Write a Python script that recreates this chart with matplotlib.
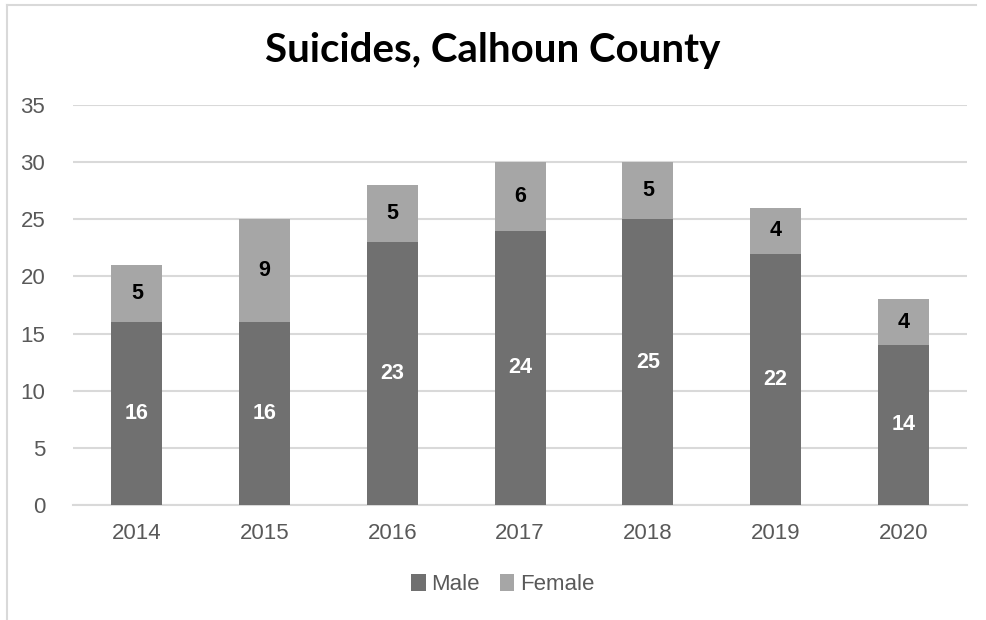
import numpy as np
import matplotlib.pyplot as plt
from matplotlib.lines import Line2D

# data
years = ["2014", "2015", "2016", "2017", "2018", "2019", "2020"]
male = [16, 16, 23, 24, 25, 22, 14]
female = [5, 9, 5, 6, 5, 4, 4]

male_color = "#707070"
female_color = "#a6a6a6"
grid_color = "#d9d9d9"
tick_color = "#595959"

fig = plt.figure(figsize=(9.86, 6.2), dpi=100)
ax = fig.add_axes([0.074, 0.1855, 0.907, 0.6451])

x = np.arange(len(years))
b1 = ax.bar(x, male, width=0.4, color=male_color, label="Male", zorder=3)
b2 = ax.bar(x, female, width=0.4, bottom=male, color=female_color,
            label="Female", zorder=3)

ax.bar_label(b1, labels=[str(v) for v in male], label_type="center",
             color="white", fontsize=15.5, fontweight="bold",
             family="Liberation Sans")
ax.bar_label(b2, labels=[str(v) for v in female], label_type="center",
             color="black", fontsize=15.5, fontweight="bold",
             family="Liberation Sans")

ax.set_xlim(-0.5, len(years) - 0.5)
ax.set_ylim(0, 35)
ax.set_yticks(range(0, 36, 5))
ax.set_xticks(x)
ax.set_xticklabels(years)
ax.yaxis.grid(True, color=grid_color, linewidth=1.5, zorder=0)
ax.set_axisbelow(True)
for s in ["top", "right", "left"]:
    ax.spines[s].set_visible(False)
ax.spines["bottom"].set_color(grid_color)
ax.spines["bottom"].set_linewidth(1.5)
ax.tick_params(length=0, labelsize=16, labelcolor=tick_color, pad=13)
ax.tick_params(axis="y", pad=20)
for lab in ax.get_xticklabels() + ax.get_yticklabels():
    lab.set_family("Liberation Sans")

fig.text(0.5, 0.918, "Suicides, Calhoun County", ha="center", va="center",
         fontsize=29, fontweight="bold", family="Lato")

leg = fig.legend(handles=[b1, b2], loc="center", bbox_to_anchor=(0.51, 0.057),
                 ncol=2, frameon=False, handlelength=0.65, handleheight=0.75,
                 handletextpad=0.25, columnspacing=0.9,
                 prop={"family": "Liberation Sans", "size": 16})
for t in leg.get_texts():
    t.set_color(tick_color)

# chart frame (left and top edges visible)
fig.add_artist(Line2D([0.007, 0.007], [0, 0.992], color=grid_color,
                      linewidth=1.5, transform=fig.transFigure))
fig.add_artist(Line2D([0.007, 0.99], [0.992, 0.992], color=grid_color,
                      linewidth=1.5, transform=fig.transFigure))

fig.savefig("out.png", dpi=100)
